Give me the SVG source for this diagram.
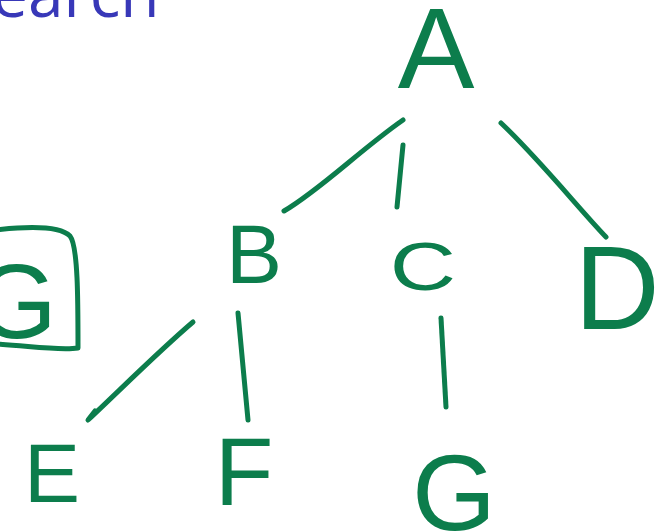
<svg xmlns="http://www.w3.org/2000/svg" width="659" height="532" viewBox="0 0 659 532">
<style>
.n{font-family:"Liberation Sans","DejaVu Sans",sans-serif;fill:#0c7d4c;text-anchor:middle}
.e{fill:none;stroke:#0c7d4c;stroke-width:5;stroke-linecap:round;stroke-linejoin:round}
.t{font-family:"Open Sans","Liberation Sans",sans-serif;fill:#3838b8}
</style>
<rect width="659" height="532" fill="#fff"/>
<text class="t" x="-8" y="17" font-size="64">earch</text>
<g id="box">
<path class="e" d="M-5,230 C30,226 60,226 70,236 C78,246 78,300 78,348 C60,351 30,346 -5,344"/>
<text class="n" x="16" y="338" font-size="105">G</text>
</g>
<g id="edges">
<path class="e" d="M403,120 C360,150 320,190 284,211"/>
<path class="e" d="M403,145 L397,207"/>
<path class="e" d="M501,123 C540,160 580,210 606,237"/>
<path class="e" d="M193,322 C160,350 120,390 88,420 L95,411"/>
<path class="e" d="M238,313 L248,420"/>
<path class="e" d="M441,318 L446,407"/>
</g>
<g id="A"><text class="n" x="436" y="88" font-size="115">A</text></g>
<g id="B"><text class="n" x="254" y="283" font-size="84">B</text></g>
<g id="C"><text class="n" transform="translate(423,290) scale(1.35,1)" font-size="68">C</text></g>
<g id="D"><text class="n" x="617" y="329" font-size="118">D</text></g>
<g id="E"><text class="n" x="52" y="502" font-size="84">E</text></g>
<g id="F"><text class="n" x="244" y="505" font-size="96">F</text></g>
<g id="G"><text class="n" x="454" y="530" font-size="108">G</text></g>
</svg>
